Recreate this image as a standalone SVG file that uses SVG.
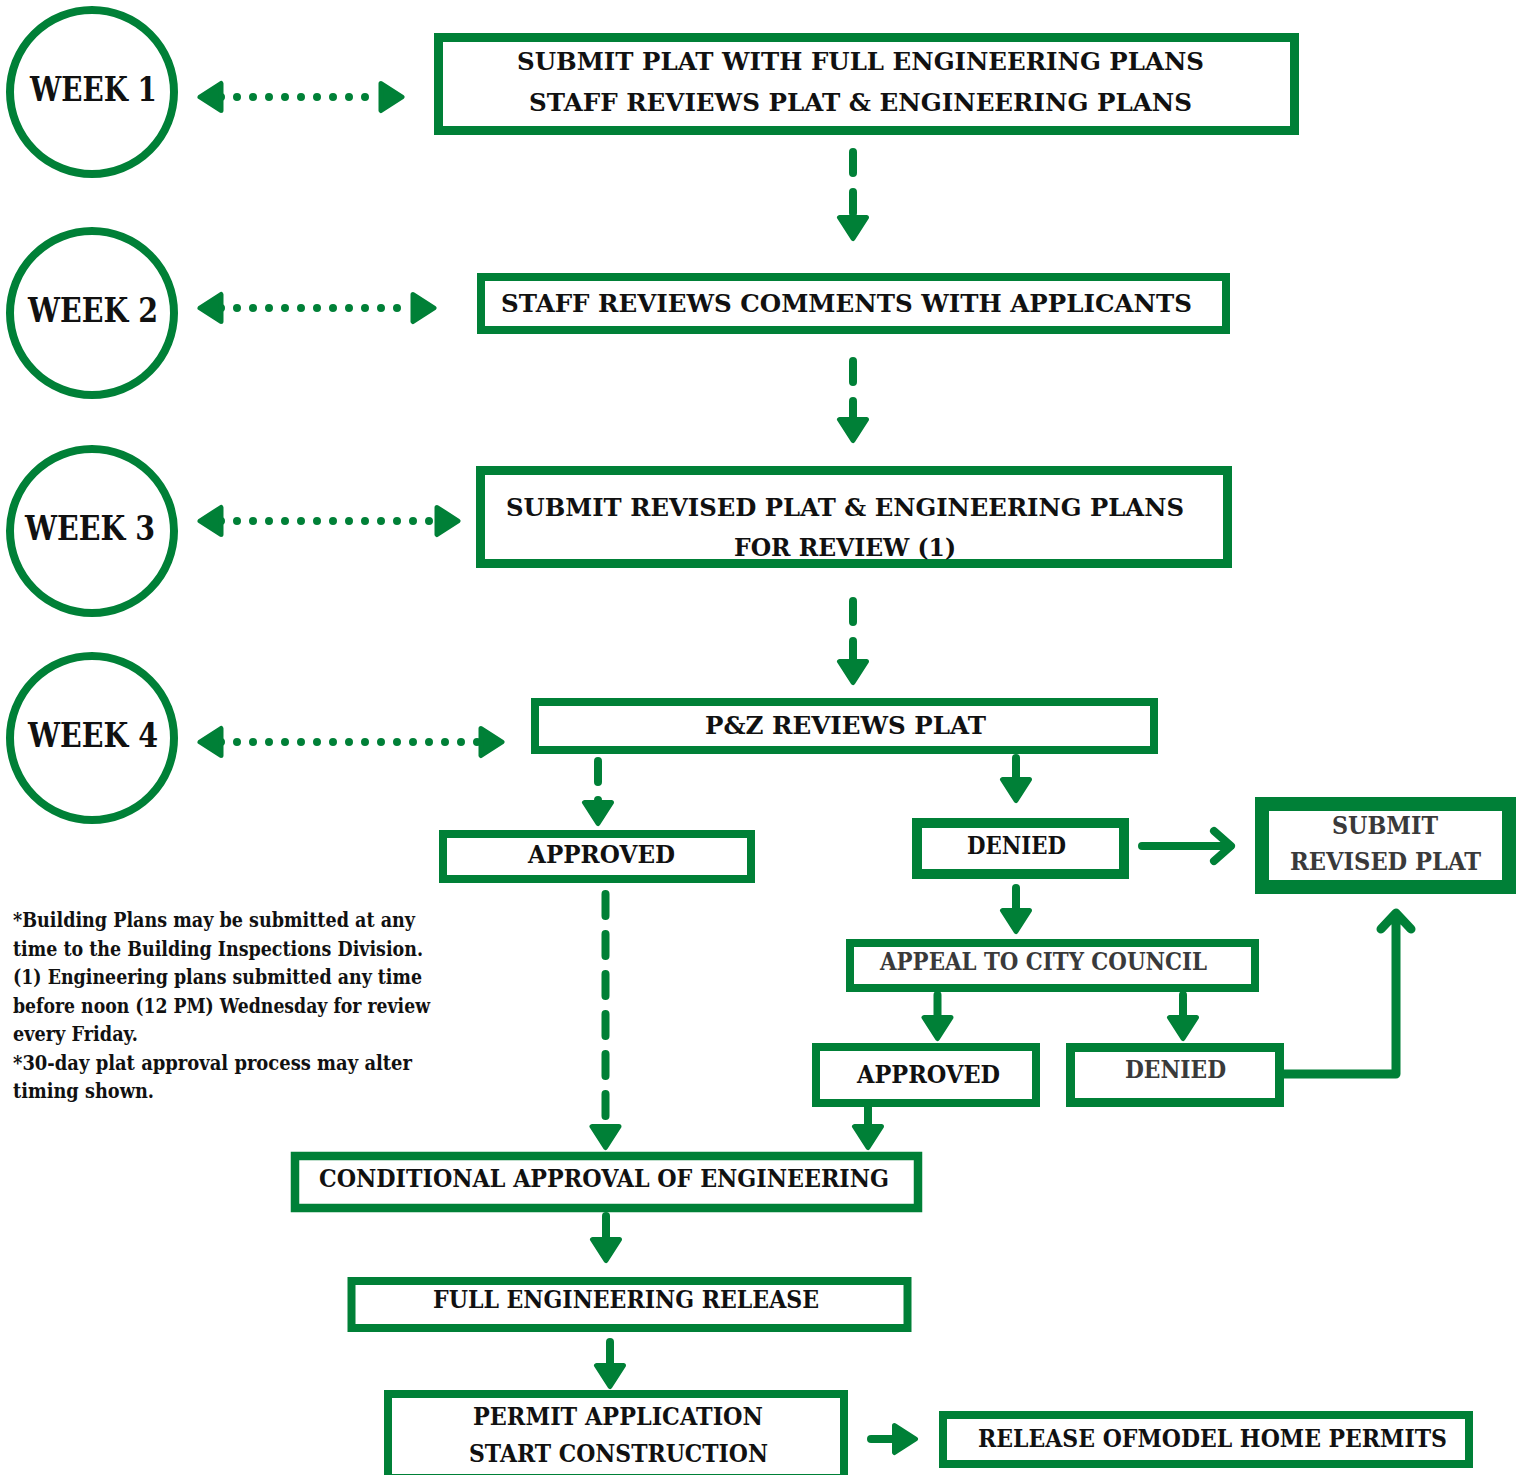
<svg xmlns="http://www.w3.org/2000/svg" width="1520" height="1475" viewBox="0 0 1520 1475">
<style>
.box{fill:#fff;stroke:#008037;stroke-width:8}
.wk{fill:#fff;stroke:#008037;stroke-width:8}
.t{font-family:"DejaVu Serif","Liberation Serif",serif;font-weight:bold;font-size:25px;fill:#111}
.s24{font-size:24px}
.w{font-size:33px}
.g{fill:#3a3a3a}
.n{font-size:20px}
.c{stroke:#008037;stroke-width:8;fill:none;stroke-linecap:round;stroke-linejoin:round}
.dot{stroke-dasharray:0 16}
</style>
<defs>
<marker id="ah" markerUnits="userSpaceOnUse" viewBox="-5 -20 32 40" markerWidth="32" markerHeight="40" refX="0" refY="0" orient="auto-start-reverse">
<path d="M0,-13.5 L21,0 L0,13.5 Z" fill="#008037" stroke="#008037" stroke-width="5" stroke-linejoin="round"/>
</marker>
</defs>
<rect width="1520" height="1475" fill="#fff"/>

<g id="week1"><circle class="wk" cx="92" cy="92" r="82"/><text class="t w" x="30" y="101" textLength="127" lengthAdjust="spacingAndGlyphs">WEEK 1</text></g>
<g id="week2"><circle class="wk" cx="92" cy="313" r="82"/><text class="t w" x="28" y="322" textLength="130" lengthAdjust="spacingAndGlyphs">WEEK 2</text></g>
<g id="week3"><circle class="wk" cx="92" cy="531" r="82"/><text class="t w" x="25" y="540" textLength="130" lengthAdjust="spacingAndGlyphs">WEEK 3</text></g>
<g id="week4"><circle class="wk" cx="92" cy="738" r="82"/><text class="t w" x="28" y="747" textLength="130" lengthAdjust="spacingAndGlyphs">WEEK 4</text></g>

<g id="n1"><rect class="box" x="438.5" y="37.5" width="856" height="93" style="stroke-width:9"/>
<text class="t" x="517" y="70" textLength="687" lengthAdjust="spacingAndGlyphs">SUBMIT PLAT WITH FULL ENGINEERING PLANS</text>
<text class="t" x="529" y="111" textLength="663" lengthAdjust="spacingAndGlyphs">STAFF REVIEWS PLAT &amp; ENGINEERING PLANS</text></g>

<g id="n2"><rect class="box" x="481" y="277" width="745" height="53"/>
<text class="t" x="501" y="312" textLength="691" lengthAdjust="spacingAndGlyphs">STAFF REVIEWS COMMENTS WITH APPLICANTS</text></g>

<g id="n3"><rect class="box" x="480.5" y="470.5" width="747" height="93" style="stroke-width:9"/>
<text class="t" x="506" y="516" textLength="678" lengthAdjust="spacingAndGlyphs">SUBMIT REVISED PLAT &amp; ENGINEERING PLANS</text>
<text class="t" x="734" y="556" textLength="222" lengthAdjust="spacingAndGlyphs">FOR REVIEW (1)</text></g>

<g id="n4"><rect class="box" x="535" y="702" width="619" height="48"/>
<text class="t" x="705" y="734" textLength="281" lengthAdjust="spacingAndGlyphs">P&amp;Z REVIEWS PLAT</text></g>

<g id="n5"><rect class="box" x="443" y="834" width="308" height="45"/>
<text class="t" x="528" y="863" textLength="147" lengthAdjust="spacingAndGlyphs">APPROVED</text></g>

<g id="n6"><rect class="box" x="917" y="823" width="207" height="51" style="stroke-width:10"/>
<text class="t s24" x="967" y="854" textLength="99" lengthAdjust="spacingAndGlyphs">DENIED</text></g>

<g id="n7"><rect class="box" x="1262" y="804" width="247" height="83" style="stroke-width:14"/>
<text class="t s24 g" x="1332" y="834" textLength="106" lengthAdjust="spacingAndGlyphs">SUBMIT</text>
<text class="t s24 g" x="1290" y="870" textLength="191" lengthAdjust="spacingAndGlyphs">REVISED PLAT</text></g>

<g id="n8"><rect class="box" x="850" y="943" width="405" height="45"/>
<text class="t s24 g" x="880" y="970" textLength="327" lengthAdjust="spacingAndGlyphs">APPEAL TO CITY COUNCIL</text></g>

<g id="n9"><rect class="box" x="816" y="1047" width="220" height="56"/>
<text class="t s24" x="857" y="1083" textLength="143" lengthAdjust="spacingAndGlyphs">APPROVED</text></g>

<g id="n10"><rect class="box" x="1070.5" y="1047.5" width="209" height="55" style="stroke-width:9"/>
<text class="t s24 g" x="1125" y="1078" textLength="101" lengthAdjust="spacingAndGlyphs">DENIED</text></g>

<g id="n11"><rect class="box" x="295" y="1156" width="623" height="52" style="stroke-width:8.5"/>
<text class="t s24" x="319" y="1187" textLength="570" lengthAdjust="spacingAndGlyphs">CONDITIONAL APPROVAL OF ENGINEERING</text></g>

<g id="n12"><rect class="box" x="351.5" y="1281" width="556" height="47"/>
<text class="t s24" x="433" y="1308" textLength="386" lengthAdjust="spacingAndGlyphs">FULL ENGINEERING RELEASE</text></g>

<g id="n13"><rect class="box" x="388" y="1394" width="456" height="84"/>
<text class="t s24" x="473" y="1425" textLength="290" lengthAdjust="spacingAndGlyphs">PERMIT APPLICATION</text>
<text class="t s24" x="469" y="1462" textLength="299" lengthAdjust="spacingAndGlyphs">START CONSTRUCTION</text></g>

<g id="n14"><rect class="box" x="943" y="1415" width="526" height="49"/>
<text class="t s24" x="978" y="1447" textLength="469" lengthAdjust="spacingAndGlyphs">RELEASE OFMODEL HOME PERMITS</text></g>

<g id="notes">
<text class="t n" x="13" y="927" textLength="402" lengthAdjust="spacingAndGlyphs">*Building Plans may be submitted at any</text>
<text class="t n" x="13" y="955.5" textLength="410" lengthAdjust="spacingAndGlyphs">time to the Building Inspections Division.</text>
<text class="t n" x="13" y="984" textLength="409" lengthAdjust="spacingAndGlyphs">(1) Engineering plans submitted any time</text>
<text class="t n" x="13" y="1012.5" textLength="417" lengthAdjust="spacingAndGlyphs">before noon (12 PM) Wednesday for review</text>
<text class="t n" x="13" y="1041" textLength="125" lengthAdjust="spacingAndGlyphs">every Friday.</text>
<text class="t n" x="13" y="1069.5" textLength="399" lengthAdjust="spacingAndGlyphs">*30-day plat approval process may alter</text>
<text class="t n" x="13" y="1098" textLength="141" lengthAdjust="spacingAndGlyphs">timing shown.</text>
</g>

<g id="connectors">
<line class="c dot" x1="221" y1="97" x2="381" y2="97" marker-start="url(#ah)" marker-end="url(#ah)"/>
<line class="c dot" x1="221" y1="308" x2="413" y2="308" marker-start="url(#ah)" marker-end="url(#ah)"/>
<line class="c dot" x1="221" y1="521" x2="437" y2="521" marker-start="url(#ah)" marker-end="url(#ah)"/>
<line class="c dot" x1="221" y1="742" x2="481" y2="742" marker-start="url(#ah)" marker-end="url(#ah)"/>

<line class="c" x1="853" y1="152" x2="853" y2="217.5" stroke-dasharray="21 19" marker-end="url(#ah)"/>
<line class="c" x1="853" y1="361" x2="853" y2="419.5" stroke-dasharray="21 19" marker-end="url(#ah)"/>
<line class="c" x1="853" y1="601" x2="853" y2="661.5" stroke-dasharray="21 19" marker-end="url(#ah)"/>
<line class="c" x1="598" y1="761" x2="598" y2="802.5" stroke-dasharray="21 18" marker-end="url(#ah)"/>
<line class="c" x1="1016" y1="758" x2="1016" y2="779.5" marker-end="url(#ah)"/>
<line class="c" x1="1016" y1="888" x2="1016" y2="910.5" marker-end="url(#ah)"/>
<line class="c" x1="937.5" y1="995" x2="937.5" y2="1017.5" marker-end="url(#ah)"/>
<line class="c" x1="1183" y1="995" x2="1183" y2="1017.5" marker-end="url(#ah)"/>
<line class="c" x1="605.5" y1="894" x2="605.5" y2="1126.5" stroke-dasharray="22 18" marker-end="url(#ah)"/>
<line class="c" x1="868" y1="1107" x2="868" y2="1126.5" marker-end="url(#ah)"/>
<line class="c" x1="606" y1="1216" x2="606" y2="1239.5" marker-end="url(#ah)"/>
<line class="c" x1="610" y1="1342" x2="610" y2="1365.5" marker-end="url(#ah)"/>
<line class="c" x1="871" y1="1439" x2="894.5" y2="1439" marker-end="url(#ah)"/>

<path class="c" d="M1142,846 H1230 M1214,831 L1231,846 L1214,861"/>
<path class="c" style="stroke-width:9" d="M1284,1074 H1396 V914 M1381,929 L1396,913 L1411,929"/>
</g>
</svg>
